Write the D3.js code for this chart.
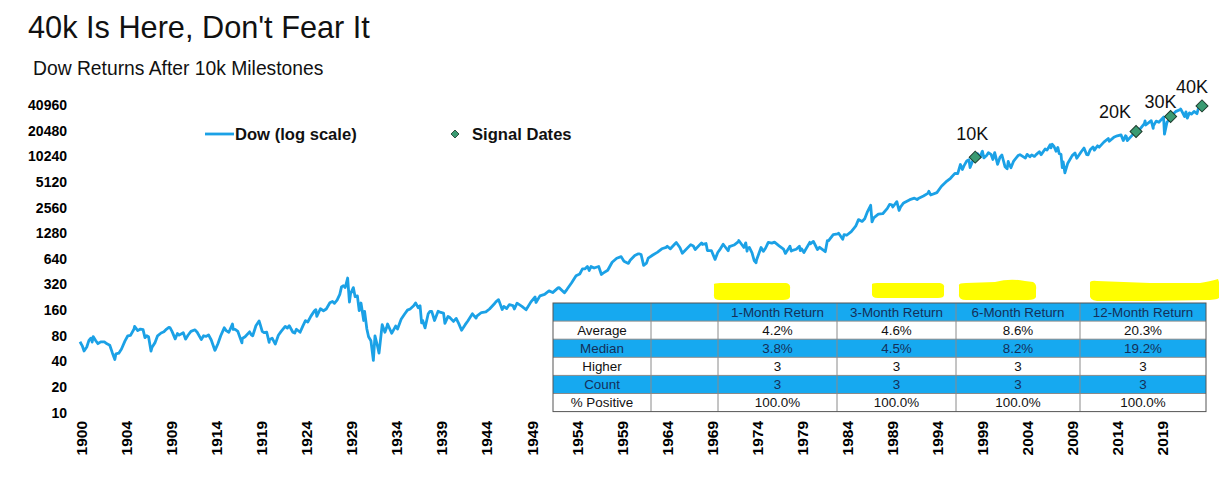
<!DOCTYPE html>
<html>
<head>
<meta charset="utf-8">
<script src="https://cdn.jsdelivr.net/npm/d3@7"></script>
<style>
  html, body { margin: 0; padding: 0; background: #fff; }
  svg { display: block; font-family: "Liberation Sans", Arial, sans-serif; }
</style>
</head>
<body>
<svg id="chart" width="1219" height="484"></svg>
<script>
// ---------------- DATA ----------------
const chartTitle = "40k Is Here, Don't Fear It";
const chartSubtitle = "Dow Returns After 10k Milestones";
const seriesName = "Dow (log scale)";
const signalName = "Signal Dates";

const yTickValues = [10, 20, 40, 80, 160, 320, 640, 1280, 2560, 5120, 10240, 20480, 40960];
const xTickLabels = ["1900","1904","1909","1914","1919","1924","1929","1934","1939","1944","1949","1954",
  "1959","1964","1969","1974","1979","1984","1989","1994","1999","2004","2009","2014","2019"];

// Dow Jones Industrial Average, [decimal year, level] (read from chart / approximate)
const dowPoints = [
  [1900.00,68.1],[1900.25,61],[1900.45,53],[1900.75,59],[1900.99,70.7],
  [1901.20,75],[1901.35,67.4],[1901.46,78.3],[1901.75,70],[1901.99,64.6],
  [1902.30,68],[1902.70,67.7],[1902.99,64.3],
  [1903.30,62],[1903.60,50],[1903.86,42.2],[1903.99,49.1],
  [1904.30,50],[1904.60,56],[1904.99,69.6],
  [1905.30,80],[1905.60,81],[1905.99,96.2],
  [1906.05,103],[1906.40,92],[1906.70,96],[1906.99,94.4],
  [1907.20,76],[1907.40,80],[1907.60,78],[1907.87,53],[1907.99,58.8],
  [1908.30,66],[1908.60,80],[1908.99,86.2],
  [1909.30,89],[1909.60,96],[1909.85,100.5],[1909.99,99],
  [1910.20,90],[1910.55,73.6],[1910.80,85],[1910.99,81.4],
  [1911.45,87],[1911.70,73],[1911.99,81.7],
  [1912.30,90],[1912.75,94],[1912.99,87.9],
  [1913.45,72.1],[1913.70,80],[1913.99,78.8],
  [1914.25,82],[1914.55,71.4],[1914.95,54],[1914.99,54.6],
  [1915.30,65],[1915.60,80],[1915.99,99.2],
  [1916.20,92],[1916.50,88],[1916.90,110],[1916.99,95],
  [1917.20,95],[1917.50,90],[1917.95,66],[1917.99,74.4],
  [1918.30,78],[1918.80,89],[1918.99,82.2],
  [1919.15,80],[1919.50,105],[1919.85,119.6],[1919.99,107.2],
  [1920.20,90],[1920.40,87],[1920.70,88],[1920.97,66.8],[1920.99,72],
  [1921.30,75],[1921.65,63.9],[1921.99,81.1],
  [1922.30,90],[1922.75,103],[1922.99,98.7],
  [1923.20,105],[1923.60,88],[1923.80,86],[1923.99,95.5],
  [1924.40,88],[1924.70,104],[1924.99,120.5],
  [1925.25,116],[1925.60,136],[1925.99,156.7],
  [1926.15,162],[1926.25,135],[1926.65,166],[1926.99,157.2],
  [1927.30,165],[1927.70,195],[1927.99,202.4],
  [1928.20,192],[1928.50,210],[1928.80,245],[1928.99,300],
  [1929.20,310],[1929.40,295],[1929.67,381],[1929.87,198.7],[1929.99,248.5],
  [1930.30,294],[1930.50,230],[1930.75,235],[1930.95,158],[1930.99,164.6],
  [1931.15,194],[1931.45,121],[1931.55,155],[1931.80,96],[1931.99,77.9],
  [1932.25,70],[1932.52,41.2],[1932.70,79.9],[1932.99,59.9],
  [1933.15,50],[1933.50,108],[1933.80,88],[1933.99,99.9],
  [1934.10,110],[1934.55,85.5],[1934.99,104],
  [1935.20,96],[1935.60,125],[1935.99,144],
  [1936.30,160],[1936.60,165],[1936.99,179.9],
  [1937.20,194.4],[1937.50,170],[1937.70,180],[1937.87,113.6],[1937.99,120.9],
  [1938.25,99],[1938.60,145],[1938.80,155],[1938.99,154.8],
  [1939.30,121],[1939.70,155],[1939.99,150.2],
  [1940.30,148],[1940.45,111.8],[1940.80,135],[1940.99,131.1],
  [1941.40,118],[1941.70,128],[1941.99,111],
  [1942.30,92.9],[1942.70,108],[1942.99,119.4],
  [1943.50,145],[1943.90,129],[1943.99,135.9],
  [1944.50,150],[1944.99,152.3],
  [1945.40,165],[1945.99,192.9],
  [1946.10,200],[1946.40,212.5],[1946.80,163],[1946.99,177.2],
  [1947.30,167],[1947.60,186],[1947.99,181.2],
  [1948.15,165],[1948.45,193],[1948.99,177.3],
  [1949.45,161.6],[1949.99,200.1],
  [1950.45,228],[1950.55,197],[1950.99,235.4],
  [1951.50,245],[1951.99,269.2],
  [1952.40,257],[1952.99,291.9],
  [1953.10,294],[1953.70,255.5],[1953.99,280.9],
  [1954.50,335],[1954.99,404.4],
  [1955.40,425],[1955.70,487],[1955.99,488.4],
  [1956.25,521],[1956.45,468],[1956.65,520],[1956.99,499.5],
  [1957.50,520],[1957.80,419.8],[1957.99,435.7],
  [1958.50,470],[1958.99,583.7],
  [1959.50,650],[1959.99,679.4],
  [1960.30,600],[1960.80,566],[1960.99,615.9],
  [1961.50,700],[1961.90,734],[1961.99,731.1],
  [1962.20,720],[1962.48,535.8],[1962.80,570],[1962.99,652.1],
  [1963.50,710],[1963.99,763],
  [1964.50,840],[1964.99,874.1],
  [1965.10,900],[1965.45,840],[1965.99,969.3],
  [1966.10,995],[1966.50,870],[1966.77,744.3],[1966.99,785.7],
  [1967.70,940],[1967.99,905.1],
  [1968.20,825],[1968.90,985],[1968.99,943.8],
  [1969.40,968],[1969.55,801],[1969.99,800.4],
  [1970.40,631],[1970.70,760],[1970.99,838.9],
  [1971.30,950],[1971.85,797],[1971.99,890.2],
  [1972.50,930],[1972.99,1020],
  [1973.03,1052],[1973.60,870],[1973.80,987],[1973.95,788],[1973.99,850.9],
  [1974.20,870],[1974.50,750],[1974.75,607],[1974.95,577.6],[1974.99,616.2],
  [1975.50,870],[1975.75,784],[1975.99,852.4],
  [1976.30,1000],[1976.70,980],[1976.99,1004.7],
  [1977.50,910],[1977.99,831.2],
  [1978.20,742],[1978.70,900],[1978.85,790],[1978.99,805],
  [1979.40,830],[1979.75,900],[1979.85,800],[1979.99,838.7],
  [1980.25,759],[1980.90,1000],[1980.99,964],
  [1981.30,1024],[1981.75,824],[1981.99,875],
  [1982.62,777],[1982.85,1050],[1982.99,1046.5],
  [1983.50,1230],[1983.99,1258.6],
  [1984.10,1280],[1984.55,1086],[1984.70,1230],[1984.99,1211.6],
  [1985.50,1335],[1985.99,1546.7],
  [1986.30,1850],[1986.70,1760],[1986.99,1896],
  [1987.30,2300],[1987.65,2722],[1987.80,1739],[1987.99,1938.8],
  [1988.50,2140],[1988.99,2168.6],
  [1989.50,2500],[1989.75,2790],[1989.99,2753.2],
  [1990.10,2600],[1990.55,2999],[1990.80,2365],[1990.99,2633.7],
  [1991.30,2900],[1991.99,3168.8],
  [1992.50,3300],[1992.80,3180],[1992.99,3301],
  [1993.50,3500],[1993.99,3754],
  [1994.10,3978],[1994.30,3600],[1994.99,3834],
  [1995.50,4550],[1995.99,5117],
  [1996.50,5650],[1996.99,6448],
  [1997.30,6400],[1997.60,8200],[1997.82,7160],[1997.99,7908],
  [1998.30,9000],[1998.55,9338],[1998.67,7540],[1998.99,9181],
  [1999.24,10000],[1999.50,11000],[1999.80,10020],[1999.99,11497],
  [2000.04,11723],[2000.20,9796],[2000.50,10450],[2000.70,11300],[2000.99,10787],
  [2001.20,9400],[2001.40,11300],[2001.72,8236],[2001.99,10022],
  [2002.20,10600],[2002.55,7700],[2002.78,7286],[2002.90,8900],[2002.99,8342],
  [2003.20,7524],[2003.50,9000],[2003.99,10454],
  [2004.20,10700],[2004.80,9750],[2004.99,10783],
  [2005.30,10100],[2005.50,10650],[2005.80,10200],[2005.99,10718],
  [2006.35,11600],[2006.55,10700],[2006.99,12463],
  [2007.20,12100],[2007.55,14000],[2007.63,12850],[2007.78,14164],[2007.99,13265],
  [2008.20,11740],[2008.40,13000],[2008.55,11000],[2008.75,10800],[2008.89,7552],[2008.99,8776],
  [2009.18,6547],[2009.50,8500],[2009.99,10428],
  [2010.30,11200],[2010.50,9700],[2010.99,11577],
  [2011.30,12800],[2011.60,10700],[2011.76,10655],[2011.99,12218],
  [2012.30,13200],[2012.45,12100],[2012.80,13600],[2012.99,13104],
  [2013.50,15000],[2013.99,16577],
  [2014.10,15400],[2014.60,17100],[2014.99,17823],
  [2015.40,18300],[2015.65,15666],[2015.90,17800],[2015.99,17425],
  [2016.10,15660],[2016.50,17400],[2016.99,19763],
  [2017.07,20000],[2017.50,21300],[2017.99,24719],
  [2018.07,26616],[2018.15,23860],[2018.75,26800],[2018.97,21792],[2018.99,23327],
  [2019.30,26500],[2019.60,25700],[2019.99,28538],
  [2020.12,29551],[2020.22,18591],[2020.50,25800],[2020.75,27500],[2020.90,30000],[2020.99,30606],
  [2021.50,34500],[2021.99,36338],
  [2022.01,36800],[2022.45,30000],[2022.60,34000],[2022.75,28725],[2022.99,33147],
  [2023.20,32000],[2023.50,34400],[2023.82,32417],[2023.99,37690],
  [2024.25,39800],[2024.38,40000]
];

const signalDates  = [1999.24, 2017.07, 2020.90, 2024.38];
const signalValues = [10000, 20000, 30000, 40000];
const signalLabels = ["10K", "20K", "30K", "40K"];

const tableHeaders   = ["", "", "1-Month Return", "3-Month Return", "6-Month Return", "12-Month Return"];
const tableRowLabels = ["Average", "Median", "Higher", "Count", "% Positive"];
const return1M  = ["4.2%", "3.8%", "3", "3", "100.0%"];
const return3M  = ["4.6%", "4.5%", "3", "3", "100.0%"];
const return6M  = ["8.6%", "8.2%", "3", "3", "100.0%"];
const return12M = ["20.3%", "19.2%", "3", "3", "100.0%"];

// ---------------- LAYOUT / STYLE ----------------
const lineColor = "#1BA1E6";
const tableBlue = "#16A9F0";
const diamondFill = "#3A9B72";
const labelOffsets = [[-3, -17], [-21, -14], [-10, -9], [-10, -13]];
const tableColEdges = [553, 651, 718, 837, 956, 1080, 1206];
const tableTop = 303, tableRowH = 18.1;

const svg = d3.select("#chart");

const x = d3.scaleLinear().domain([1900, 2024.38]).range([80, 1202]);
const y = d3.scaleLog().base(2).domain([10, 40960]).range([412.7, 105]);
const xLab = d3.scalePoint().domain(xTickLabels).range([81, 1162]);

// Titles
svg.append("text").attr("x", 28).attr("y", 38)
  .attr("font-size", 30.7).attr("fill", "#111").text(chartTitle);
svg.append("text").attr("x", 33).attr("y", 75)
  .attr("font-size", 19.3).attr("fill", "#111").text(chartSubtitle);

// Y axis (labels only)
const yAxis = d3.axisLeft(y).tickValues(yTickValues).tickFormat(d3.format("d")).tickSize(0).tickPadding(0);
const gy = svg.append("g").attr("transform", "translate(67,0)").call(yAxis);
gy.select(".domain").remove();
gy.selectAll("text").attr("font-size", 14).attr("font-weight", "bold")
  .attr("fill", "#000").attr("font-family", "'Liberation Sans', Arial, sans-serif");

// X axis labels (rotated)
const xAxis = d3.axisBottom(xLab).tickSize(0).tickPadding(0);
const gx = svg.append("g").attr("transform", "translate(0,421)").call(xAxis);
gx.select(".domain").remove();
gx.selectAll("text")
  .attr("font-size", 15.5).attr("font-weight", "bold").attr("fill", "#000")
  .attr("font-family", "'Liberation Sans', Arial, sans-serif")
  .attr("text-anchor", "end")
  .attr("y", 0)
  .attr("transform", "rotate(-90)")
  .attr("x", 0)
  .attr("dy", "0.36em");

// Line
const line = d3.line().x(d => x(d[0])).y(d => y(d[1]));
svg.append("path").datum(dowPoints)
  .attr("d", line).attr("fill", "none")
  .attr("stroke", lineColor).attr("stroke-width", 2.8)
  .attr("stroke-linejoin", "round");

// Yellow highlight annotations above header
const hl = svg.append("g").attr("fill", "#FFFF00");
[
  "M714,285 Q713,283 720,283 L786,283 Q791,284 790,289 L790,297 Q789,300 783,300 L720,300 Q713,300 714,294 Z",
  "M872,285 Q871,283 877,283 L940,283 Q945,284 944,288 L944,295 Q944,298 938,298 L878,298 Q871,298 872,293 Z",
  "M959,286 Q958,283 966,283 L995,282 Q1010,278 1025,281 L1033,282 Q1037,284 1036,290 L1036,297 Q1035,300 1028,300 L966,300 Q958,300 959,294 Z",
  "M1090,284 Q1089,280 1097,281 L1150,283 L1200,283 Q1212,281 1218,279 L1219,282 L1219,298 Q1216,300 1205,300 L1150,301 L1097,301 Q1089,300 1090,294 Z"
].forEach(p => hl.append("path").attr("d", p));

// Table
const rows = [tableHeaders].concat(tableRowLabels.map((lab, i) =>
  [lab, "", return1M[i], return3M[i], return6M[i], return12M[i]]));
const tg = svg.append("g");
rows.forEach((r, ri) => {
  const blue = (ri % 2 === 0);
  const y0 = tableTop + ri * tableRowH;
  tg.append("rect").attr("x", tableColEdges[0]).attr("y", y0)
    .attr("width", tableColEdges[6] - tableColEdges[0]).attr("height", tableRowH)
    .attr("fill", blue ? tableBlue : "#fff");
  r.forEach((cell, ci) => {
    const cx = (tableColEdges[ci] + tableColEdges[ci + 1]) / 2;
    tg.append("text").attr("x", cx).attr("y", y0 + tableRowH / 2 + 4.8)
      .attr("text-anchor", "middle").attr("font-size", 13.4)
      .attr("fill", blue ? "#14305A" : "#111").text(cell);
  });
});
// grid lines
for (let i = 1; i < rows.length; i++) {
  const yy = tableTop + i * tableRowH;
  tg.append("line").attr("x1", tableColEdges[0]).attr("x2", tableColEdges[6])
    .attr("y1", yy).attr("y2", yy).attr("stroke", "#8a8a8a").attr("stroke-width", 1);
}
tableColEdges.slice(1, -1).forEach(cxe => {
  tg.append("line").attr("x1", cxe).attr("x2", cxe)
    .attr("y1", tableTop).attr("y2", tableTop + rows.length * tableRowH)
    .attr("stroke", "#8a8a8a").attr("stroke-width", 1);
});
tg.append("rect").attr("x", tableColEdges[0]).attr("y", tableTop)
  .attr("width", tableColEdges[6] - tableColEdges[0]).attr("height", rows.length * tableRowH)
  .attr("fill", "none").attr("stroke", "#555").attr("stroke-width", 1);

// Signal markers
const diamond = d3.symbol().type(d3.symbolSquare).size(72);
const sg = svg.append("g");
signalDates.forEach((d, i) => {
  const px = x(d), py = y(signalValues[i]);
  sg.append("path").attr("d", diamond())
    .attr("transform", `translate(${px},${py}) rotate(45)`)
    .attr("fill", diamondFill).attr("stroke", "#1e3b2c").attr("stroke-width", 1);
  sg.append("text").attr("x", px + labelOffsets[i][0]).attr("y", py + labelOffsets[i][1])
    .attr("text-anchor", "middle").attr("font-size", 18).attr("fill", "#111")
    .text(signalLabels[i]);
});

// Legend
const lg = svg.append("g");
lg.append("line").attr("x1", 205).attr("x2", 234).attr("y1", 134).attr("y2", 134)
  .attr("stroke", lineColor).attr("stroke-width", 2.8);
lg.append("text").attr("x", 235).attr("y", 140).attr("font-size", 16.6)
  .attr("font-weight", "bold").attr("fill", "#111").text(seriesName);
lg.append("path").attr("d", d3.symbol().type(d3.symbolSquare).size(32)())
  .attr("transform", "translate(455,134) rotate(45)")
  .attr("fill", diamondFill).attr("stroke", "#1e3b2c").attr("stroke-width", 0.8);
lg.append("text").attr("x", 472).attr("y", 140).attr("font-size", 16.6)
  .attr("font-weight", "bold").attr("fill", "#111").text(signalName);
</script>
</body>
</html>
